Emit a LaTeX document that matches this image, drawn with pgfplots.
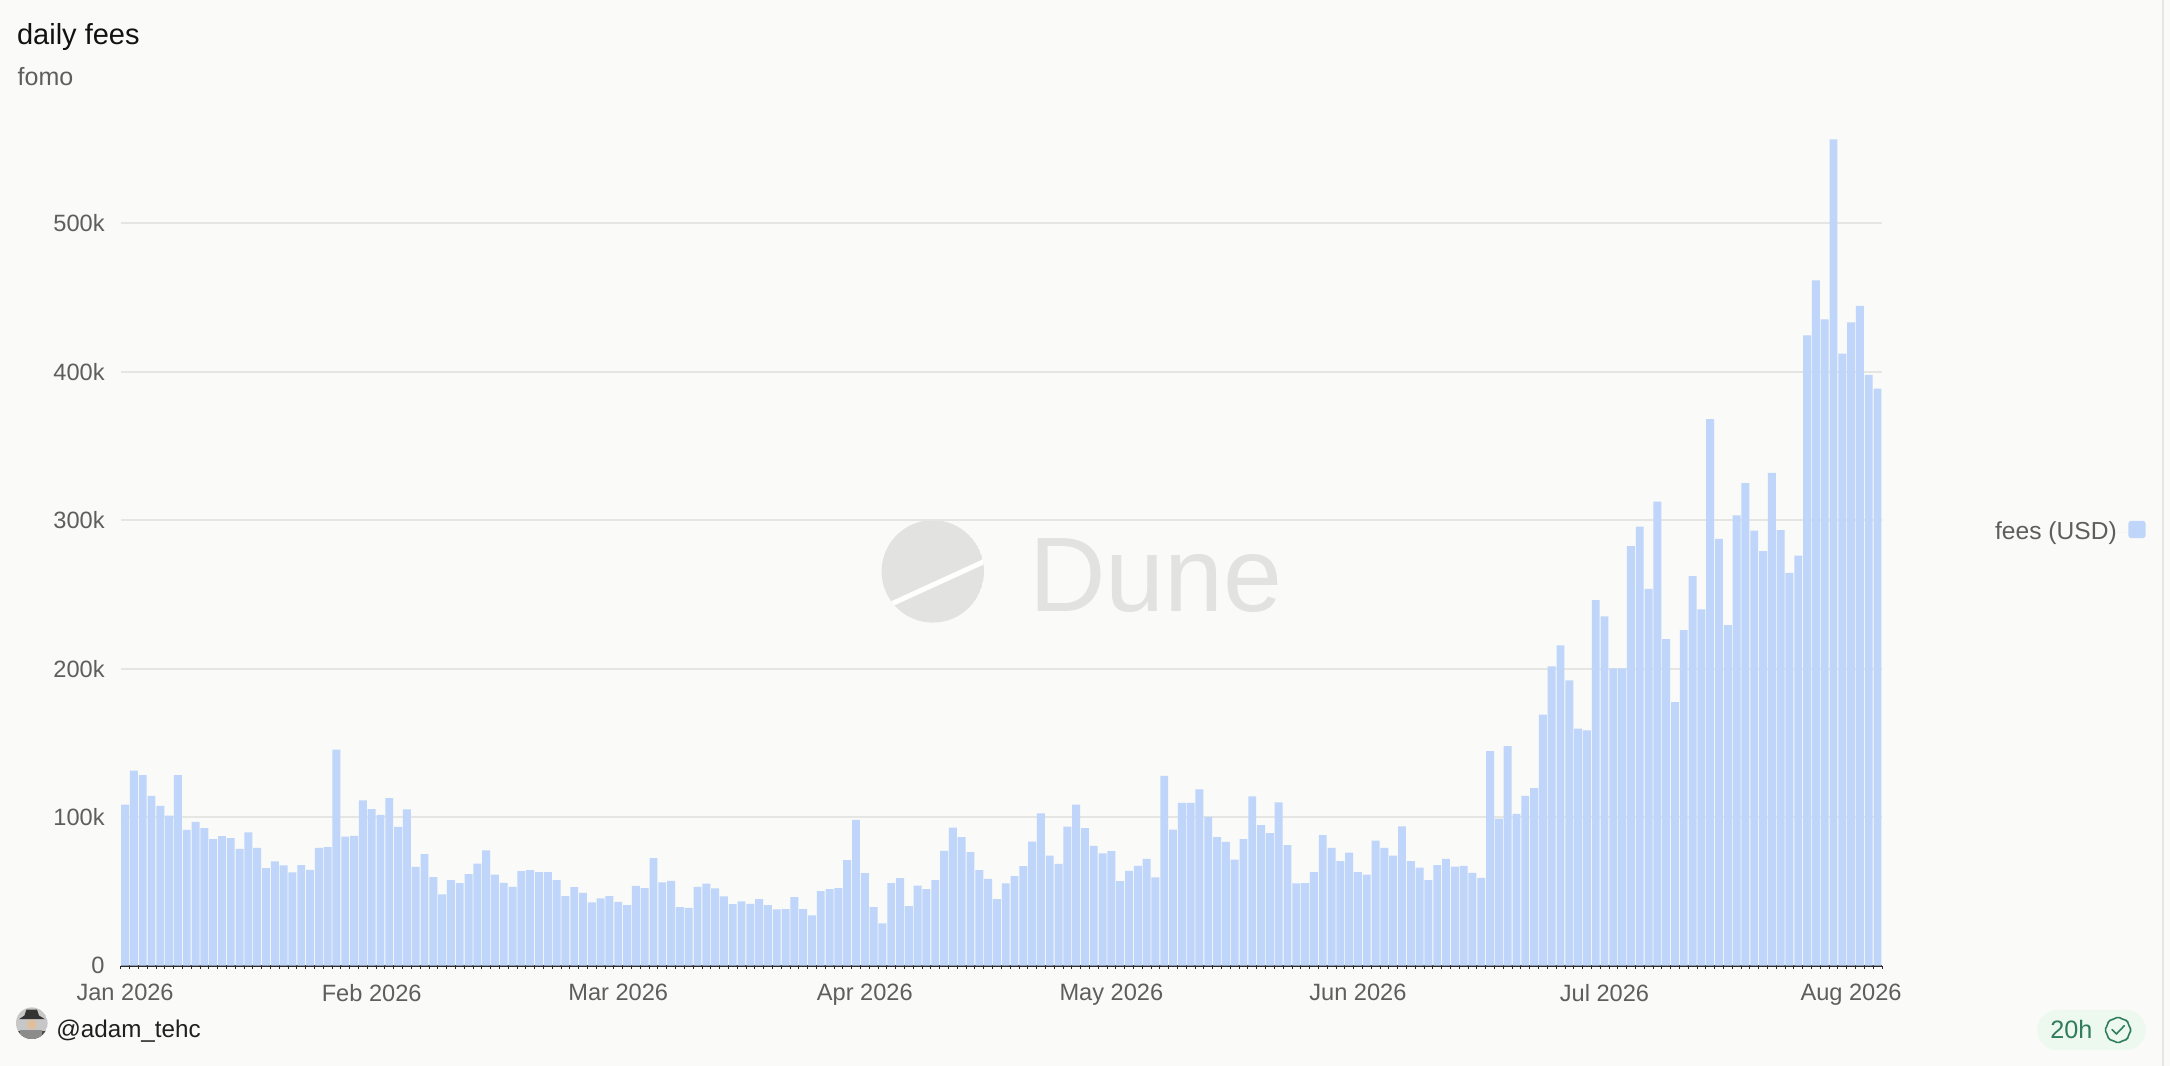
\documentclass[border=0pt]{standalone}
\usepackage{pgfplots}
\pgfplotsset{compat=1.18}
\usepackage{pgfplotstable}
\usepackage{fontspec}
\setmainfont{Liberation Sans}
\usetikzlibrary{shapes.geometric}
\definecolor{bgcol}{HTML}{FAFAF8}
\definecolor{barcol}{HTML}{BFD6FA}
\definecolor{gridcol}{HTML}{E5E5E3}
\definecolor{tickcol}{HTML}{5E5E5E}
\definecolor{axiscol}{HTML}{2B2B2B}
\definecolor{wmcol}{HTML}{E2E2E0}
\definecolor{badgefill}{HTML}{EDF8EE}
\definecolor{badgetext}{HTML}{2F7D5A}
\pgfplotstableread{
x y
0 108500
1 131400
2 128300
3 114300
4 107600
5 101100
6 128300
7 91500
8 96900
9 92600
10 85200
11 87200
12 85900
13 78700
14 89700
15 79400
16 65700
17 70200
18 67500
19 62800
20 67700
21 64600
22 79400
23 79800
24 145500
25 87000
26 87400
27 111400
28 105400
29 101600
30 112800
31 93500
32 105200
33 66600
34 75100
35 59600
36 48000
37 57600
38 55600
39 61700
40 68800
41 77600
42 61400
43 55800
44 53100
45 63700
46 64300
47 63000
48 63000
49 57600
50 46900
51 52900
52 49100
53 42600
54 45300
55 46900
56 43000
57 40800
58 53800
59 52200
60 72400
61 56100
62 57200
63 39500
64 39000
65 53100
66 55200
67 52000
68 46600
69 41500
70 43300
71 41700
72 44800
73 40800
74 37900
75 38100
76 46200
77 38100
78 33900
79 50200
80 51600
81 52200
82 71100
83 98200
84 62300
85 39500
86 28500
87 55600
88 59000
89 40100
90 54000
91 51600
92 57600
93 77400
94 93000
95 86500
96 76500
97 64300
98 58500
99 44800
100 55400
101 60300
102 67000
103 83600
104 102500
105 74200
106 68600
107 93700
108 108500
109 92600
110 80700
111 75600
112 77100
113 57000
114 63900
115 67300
116 72000
117 59400
118 127800
119 91700
120 109600
121 109600
122 118800
123 100200
124 86500
125 83400
126 71500
127 85200
128 114100
129 94600
130 89200
131 109900
132 81200
133 55400
134 55600
135 63000
136 87900
137 79400
138 70400
139 76200
140 63000
141 61400
142 84300
143 79400
144 74200
145 93900
146 70400
147 66100
148 57600
149 67700
150 72000
151 66700
152 67200
153 62500
154 59100
155 144500
156 99100
157 147900
158 102200
159 114400
160 119600
161 169000
162 201600
163 215700
164 192100
165 159600
166 158400
167 246100
168 235300
169 200200
170 200200
171 282600
172 295700
173 253700
174 312500
175 220000
176 177500
177 226000
178 262300
179 239900
180 368100
181 287500
182 229300
183 303300
184 324900
185 293000
186 279100
187 331900
188 293400
189 264500
190 276200
191 424500
192 461500
193 435200
194 556400
195 412100
196 433300
197 444300
198 397800
199 388600
}\feesdata
\begin{document}
\begin{tikzpicture}
\fill[bgcol] (0bp,0bp) rectangle (1085bp,533bp);
\draw[gridcol, line width=1bp] (1081.5bp,0bp) -- (1081.5bp,533bp);
% title
\node[anchor=base west, inner sep=0pt, text=black!93, font=\fontsize{14.5bp}{16bp}\selectfont] at (8.35bp,510.6bp) {daily fees};
\node[anchor=base west, inner sep=0pt, text=tickcol, font=\fontsize{12.5bp}{14bp}\selectfont] at (8.65bp,490bp) {fomo};
% watermark
\begin{scope}
\clip (466.4bp,247.3bp) circle (25.6bp);
\fill[wmcol] (466.4bp,247.3bp) circle (25.6bp);
\draw[white, line width=2.5bp] (438bp,227.5bp) -- (496bp,254bp);
\end{scope}
\node[anchor=base west, inner sep=0pt, text=wmcol, font=\fontsize{53bp}{60bp}\selectfont] at (514.3bp,227.15bp) {Dune};
\begin{axis}[
  at={(60.35bp,50.15bp)}, anchor=south west,
  scale only axis, width=880.6bp, height=415.8bp,
  xmin=-0.5, xmax=199.5, ymin=0, ymax=560000,
  axis x line*=bottom, axis y line*=left,
  y axis line style={draw=none},
  x axis line style={draw=axiscol, line width=0.9bp, -},
  ytick={0,100000,200000,300000,400000,500000},
  yticklabels={0,100k,200k,300k,400k,500k},
  scaled y ticks=false,
  xtick={0,28,56,84,112,140,168,196},
  xticklabels={Jan 2026,Feb 2026,Mar 2026,Apr 2026,May 2026,Jun 2026,Jul 2026,Aug 2026},
  major tick length=0pt,
  minor xtick={-0.5,0.5,...,199.5},
  minor tick length=1.5bp,
  tick align=outside,
  minor tick style={draw=axiscol, line width=0.4bp},
  ymajorgrids, grid style={draw=gridcol, line width=0.9bp},
  yticklabel style={anchor=east, inner sep=0pt, xshift=-7.85bp, text=tickcol, font=\fontsize{11.8bp}{14bp}\selectfont},
  xticklabel style={anchor=north, inner sep=0pt, yshift=-9.15bp, text=tickcol, font=\fontsize{11.8bp}{14bp}\selectfont},
  legend plot pos=right,
  legend style={at={(1.1498,0.522)}, anchor=east, draw=none, fill=none, inner sep=0pt, outer sep=0pt,
    nodes={inner sep=0pt, text=tickcol}, font=\fontsize{12.3bp}{14bp}\selectfont},
  legend image code/.code={\path (0bp,0bp) -- (5.8bp,0bp); \fill[barcol, rounded corners=1.5bp] (5.8bp,-3.1bp) rectangle (14.5bp,5.6bp);},
]
\addplot[ybar, bar width=0.9, fill=barcol, draw=none] table[x=x,y=y] {\feesdata};
\addlegendentry{fees (USD)}
\end{axis}
% footer
\begin{scope}
\clip (15.9bp,21.4bp) circle (7.9bp);
\fill[black!22] (15.9bp,21.4bp) circle (7.9bp);
\fill[black!70] (6bp,10bp) rectangle (26bp,17.5bp);
\fill[black!45] (10bp,13.5bp) rectangle (21bp,18bp);
\fill[brown!50!white] (15.9bp,20.8bp) circle (2.6bp);
\fill[black!80] (9.5bp,23.4bp) -- (22.5bp,23.4bp) -- (19.5bp,25.2bp) -- (18.5bp,28.2bp) -- (13.2bp,28.2bp) -- (12.2bp,25.2bp) -- cycle;
\end{scope}
\node[anchor=base west, inner sep=0pt, text=black!88, font=\fontsize{12.1bp}{14bp}\selectfont] at (28bp,14.35bp) {@adam\_tehc};
\fill[badgefill, rounded corners=10bp] (1018.65bp,8bp) rectangle (1072.85bp,28bp);
\node[anchor=base west, inner sep=0pt, text=badgetext, font=\fontsize{12.6bp}{14bp}\selectfont] at (1025bp,13.85bp) {20h};
\node[star, star points=8, star point ratio=1.13, draw=badgetext, line width=0.8bp, rounded corners=0.8bp, minimum size=13.2bp, inner sep=0pt] at (1059bp,18bp) {};
\draw[badgetext, line width=0.8bp, line cap=round, line join=round] (1056bp,18.2bp) -- (1058.2bp,16bp) -- (1062.2bp,20.2bp);
\pgfresetboundingbox
\path (0bp,0bp) rectangle (1085bp,533bp);
\end{tikzpicture}
\end{document}
